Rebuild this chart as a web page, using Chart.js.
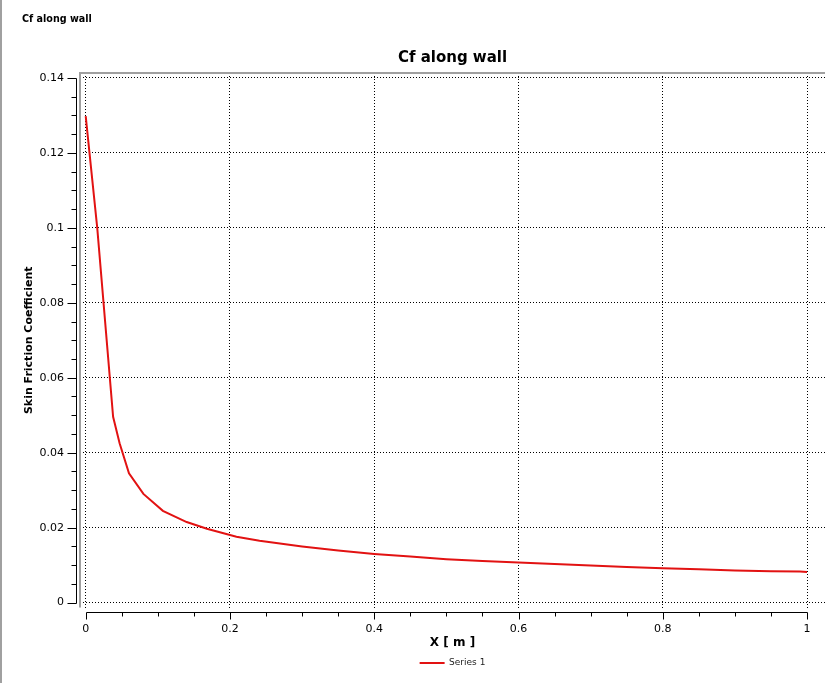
<!DOCTYPE html>
<html>
<head>
<meta charset="utf-8">
<script src="https://cdn.jsdelivr.net/npm/chart.js@4.4.1/dist/chart.umd.min.js"></script>
<style>
  html, body { margin: 0; padding: 0; background: #fff; width: 838px; height: 683px; overflow: hidden; }
  #panelEdge { position: absolute; left: 0; top: 0; width: 2px; height: 683px; background: #a0a0a0; }
  #header { position: absolute; left: 22px; top: 14px; font: bold 9.6px "DejaVu Sans", sans-serif; line-height: 10px; color: #000; z-index: 2; }
  #wrap { position: absolute; left: 0; top: 0; width: 838px; height: 683px; }
</style>
</head>
<body>
<div id="panelEdge"></div>
<div id="header">Cf along wall</div>
<div id="wrap"><canvas id="c" width="838" height="683"></canvas></div>
<script>
// ---- data ----
const xValues  = [0, 0.016, 0.038, 0.047, 0.060, 0.080, 0.107, 0.140, 0.168, 0.209, 0.241,
                  0.30, 0.35, 0.40, 0.45, 0.50, 0.55, 0.60, 0.65, 0.70, 0.75, 0.80, 0.85, 0.90, 0.95, 0.99, 1.0];
const cfValues = [0.1298, 0.1000, 0.0496, 0.0425, 0.0345, 0.0290, 0.0245, 0.0215, 0.0197, 0.0176, 0.0165,
                  0.0150, 0.0139, 0.0130, 0.0123, 0.0116, 0.0111, 0.0107, 0.0103, 0.0099, 0.0095, 0.0092, 0.0089, 0.0086, 0.0084, 0.0083, 0.0082];
const xTickValues = [0, 0.2, 0.4, 0.6, 0.8, 1];
const yTickValues = [0, 0.02, 0.04, 0.06, 0.08, 0.1, 0.12, 0.14];
const seriesName = 'Series 1';
const chartTitle = 'Cf along wall';
const xAxisTitle = 'X [ m ]';
const yAxisTitle = 'Skin Friction Coefficient';

const X_MIN = -0.0079, X_MAX = 1.0249;
const Y_MIN = -0.0013, Y_MAX = 0.1413;
const X_MINOR = 0.05, Y_MINOR = 0.005;

const points = xValues.map((x, i) => ({ x: x, y: cfValues[i] }));

const FONT = '"DejaVu Sans", sans-serif';

const detachedAxes = {
  id: 'detachedAxes',
  beforeDatasetsDraw(chart) {
    const { ctx, chartArea } = chart;
    ctx.save();
    ctx.strokeStyle = '#a0a0a0';
    ctx.lineWidth = 2;
    ctx.setLineDash([]);
    ctx.beginPath();
    ctx.moveTo(chartArea.left, chartArea.bottom);
    ctx.lineTo(chartArea.left, chartArea.top);
    ctx.lineTo(chartArea.right, chartArea.top);
    ctx.stroke();
    ctx.restore();
  },
  afterDraw(chart) {
    const { ctx, chartArea, scales } = chart;
    const xs = scales.x, ys = scales.y;
    const xFirst = xTickValues[0], xLast = xTickValues[xTickValues.length - 1];
    const yFirst = yTickValues[0], yLast = yTickValues[yTickValues.length - 1];
    ctx.save();
    ctx.strokeStyle = '#000';
    ctx.lineWidth = 1;
    ctx.setLineDash([]);
    ctx.beginPath();
    // vertical axis (detached, left of the plot frame)
    const ax = Math.round(chartArea.left - 4) + 0.5;
    ctx.moveTo(ax, Math.round(ys.getPixelForValue(yLast)) + 0.5);
    ctx.lineTo(ax, Math.round(ys.getPixelForValue(yFirst)) + 0.5);
    const nY = Math.round((yLast - yFirst) / Y_MINOR);
    for (let i = 0; i <= nY; i++) {
      const v = yFirst + i * Y_MINOR;
      const py = Math.round(ys.getPixelForValue(v)) + 0.5;
      const major = i % 4 === 0;
      ctx.moveTo(ax, py);
      ctx.lineTo(ax - (major ? 9 : 5), py);
    }
    // horizontal axis (detached, below the plot frame)
    const ay = Math.round(chartArea.bottom + 4) + 0.5;
    ctx.moveTo(Math.round(xs.getPixelForValue(xFirst)) + 0.5, ay);
    ctx.lineTo(Math.round(xs.getPixelForValue(xLast)) + 0.5, ay);
    const nX = Math.round((xLast - xFirst) / X_MINOR);
    for (let i = 0; i <= nX; i++) {
      const v = xFirst + i * X_MINOR;
      const px = Math.round(xs.getPixelForValue(v)) + 0.5;
      const major = i % 4 === 0;
      ctx.moveTo(px, ay);
      ctx.lineTo(px, ay + (major ? 7 : 4));
    }
    ctx.stroke();
    ctx.restore();
  }
};

new Chart(document.getElementById('c'), {
  type: 'line',
  data: {
    datasets: [{
      label: seriesName,
      data: points,
      borderColor: 'rgb(226,18,18)',
      backgroundColor: 'rgb(226,18,18)',
      borderWidth: 2,
      pointRadius: 0,
      tension: 0,
      fill: false
    }]
  },
  options: {
    responsive: false,
    animation: false,
    devicePixelRatio: 1,
    layout: { padding: { top: 41, left: 0, right: 13, bottom: 5.5 } },
    plugins: {
      title: {
        display: true,
        text: chartTitle,
        fullSize: false,
        color: '#000',
        font: { family: FONT, size: 15, weight: 'bold', lineHeight: 1.2 },
        padding: { top: 8.5, bottom: 5.5 }
      },
      legend: {
        display: true,
        position: 'bottom',
        fullSize: false,
        labels: {
          boxWidth: 25,
          boxHeight: 0,
          padding: 5,
          color: '#222',
          font: { family: FONT, size: 9 }
        }
      },
      tooltip: { enabled: false }
    },
    scales: {
      x: {
        type: 'linear',
        min: X_MIN,
        max: X_MAX,
        afterBuildTicks: (s) => { s.ticks = xTickValues.map(v => ({ value: v })); },
        afterFit: (s) => { s.height = 46; },
        ticks: {
          padding: 15,
          color: '#000',
          font: { family: FONT, size: 11 },
          callback: (v) => String(v)
        },
        grid: { color: '#000', lineWidth: 1, drawTicks: false },
        border: { display: false, dash: [1, 2] },
        title: {
          display: true,
          text: xAxisTitle,
          color: '#000',
          font: { family: FONT, size: 12, weight: 'bold', lineHeight: 1.2 },
          padding: { top: 0, bottom: 3.3 }
        }
      },
      y: {
        type: 'linear',
        min: Y_MIN,
        max: Y_MAX,
        afterBuildTicks: (s) => { s.ticks = yTickValues.map(v => ({ value: v })); },
        afterFit: (s) => { s.width = 80; },
        ticks: {
          padding: 16,
          color: '#000',
          font: { family: FONT, size: 11 },
          callback: (v) => String(v)
        },
        grid: { color: '#000', lineWidth: 1, drawTicks: false },
        border: { display: false, dash: [1, 2] },
        title: {
          display: true,
          text: yAxisTitle,
          color: '#000',
          font: { family: FONT, size: 11, weight: 'bold', lineHeight: 1.2 },
          padding: { top: 23, bottom: 0 }
        }
      }
    }
  },
  plugins: [detachedAxes]
});
</script>
</body>
</html>
